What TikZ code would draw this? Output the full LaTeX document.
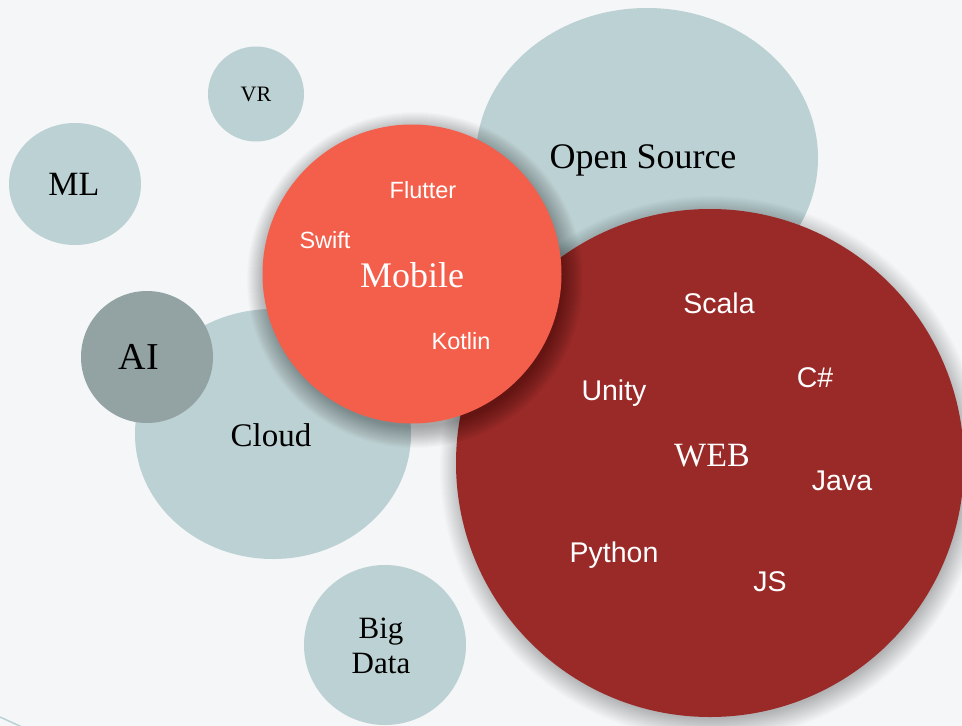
\documentclass[tikz,border=0pt]{standalone}
\usepackage{fontspec}
\setmainfont{Liberation Serif}
\newfontfamily\langfont{Liberation Sans}
\usetikzlibrary{positioning}
\definecolor{mbg}{HTML}{F4F6F8}
\definecolor{mgrey}{HTML}{BCD1D3}
\definecolor{mdark}{HTML}{93A3A3}
\definecolor{mcoral}{HTML}{F45F4B}
\definecolor{mred}{HTML}{992A28}
\tikzset{topic/.style = {inner sep = 0, align = center, font = \fontsize{34}{36}\selectfont}}
\tikzset{lang/.style = {inner sep = 0, white, font = \langfont\fontsize{28.5}{32}\selectfont}}
\tikzset{smalllang/.style = {lang, font = \langfont\fontsize{23.5}{28}\selectfont}}

\begin{document}
\begin{tikzpicture}[x=1pt, y=-1pt]
      \useasboundingbox [fill=mbg] (0, 0) rectangle (962, 726);
      \draw [mgrey, line width=1.5] (0, 717) -- (22, 727);
      % bubbles at the back
      \fill [mgrey] (75, 184) ellipse [x radius=66, y radius=61];
      \fill [mgrey] (256, 94) ellipse [x radius=48, y radius=47.5];
      \fill [mgrey] (647, 158) ellipse [x radius=171, y radius=150];
      \fill [mgrey] (273, 434) ellipse [x radius=138, y radius=125];
      \fill [mdark] (147, 357) circle [radius=66];
      \fill [mgrey] (385, 645) ellipse [x radius=81, y radius=80];
      % web
      \foreach \k in {1,...,22}
        \fill [black, opacity=0.012] (712, 468) circle [radius=250+\k];
      \fill [mred] (710, 463) circle [radius=254];
      % mobile
      \foreach \k in {1,...,22}
        \fill [black, opacity=0.014] (415, 280) circle [radius=146+\k];
      \fill [mcoral] (412, 274) circle [radius=149.5];
      % labels
      \node [topic] (ml) at (74, 184) {ML};
      \node [topic, font=\fontsize{22}{24}\selectfont] (vr) at (256, 94) {VR};
      \node [topic, font=\fontsize{36}{38}\selectfont] (opensource) at (643, 160) {Open Source};
      \node [topic, font=\fontsize{38}{40}\selectfont] (ai) at (139, 357) {AI};
      \node [topic, font=\fontsize{33}{36}\selectfont] (cloud) at (271, 435) {Cloud};
      \node [topic, font=\fontsize{31}{35}\selectfont] (bigdata) at (381, 646) {Big\\Data};
      \node [topic, white, font=\fontsize{36}{38}\selectfont] (mobile) at (412, 275) {Mobile};
      \node [smalllang] (flutter) at (423, 190) {Flutter};
      \node [smalllang] (swift) at (325, 240) {Swift};
      \node [smalllang] (kotlin) at (461, 341) {Kotlin};
      \node [topic, white] (web) at (712, 456) {WEB};
      \node [lang] (scala) at (719, 303) {Scala};
      \node [lang] (csharp) at (815, 378) {C\#};
      \node [lang] (unity) at (614, 393) {Unity};
      \node [lang] (java) at (842, 481) {Java};
      \node [lang] (python) at (614, 555) {Python};
      \node [lang] (js) at (770, 582) {JS};
\end{tikzpicture}
\end{document}
